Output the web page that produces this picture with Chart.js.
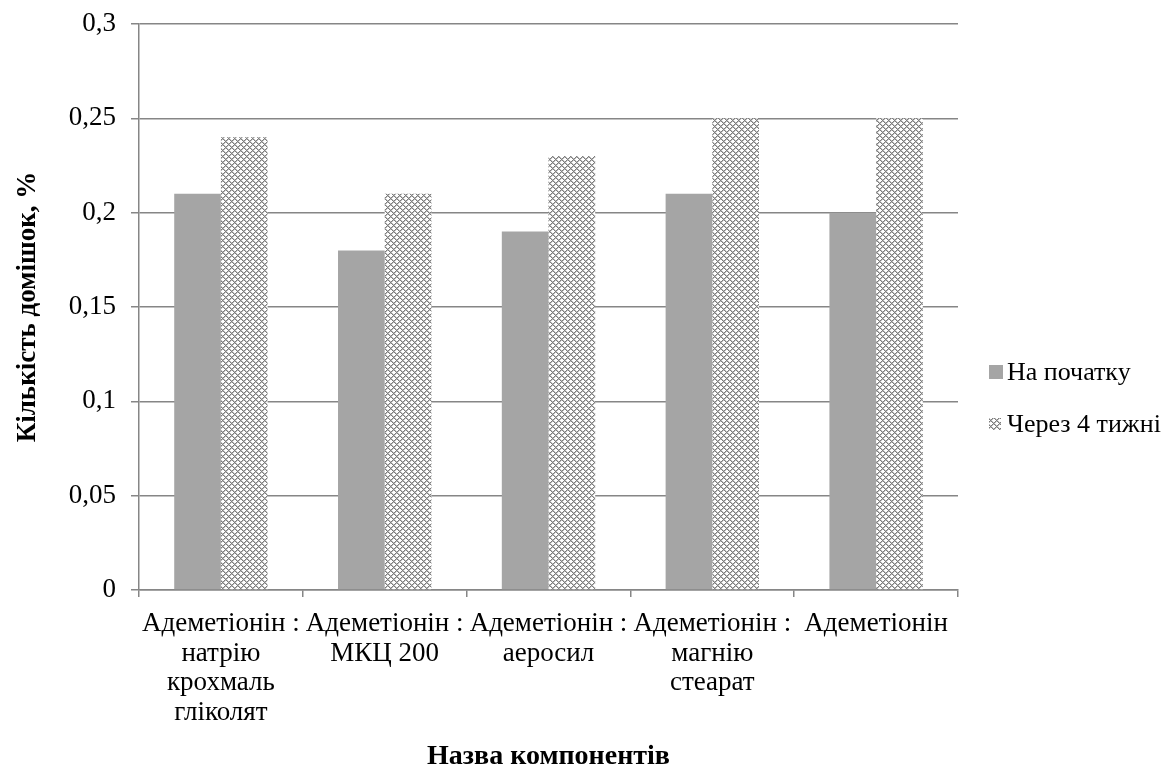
<!DOCTYPE html>
<html>
<head>
<meta charset="utf-8">
<script src="https://cdn.jsdelivr.net/npm/chart.js@4.4.1/dist/chart.umd.min.js"></script>
<style>
  html, body { margin: 0; padding: 0; background: #ffffff; }
  #wrap { width: 1167px; height: 767px; }
</style>
</head>
<body>
<div id="wrap"><canvas id="c" width="1167" height="767"></canvas></div>
<script>
// Components (multi-line category labels)
const categories = [
  ["Адеметіонін :", "натрію", "крохмаль", "гліколят"],
  ["Адеметіонін :", "МКЦ 200"],
  ["Адеметіонін :", "аеросил"],
  ["Адеметіонін :", "магнію", "стеарат"],
  ["Адеметіонін"]
];
const seriesNames = ["На початку", "Через 4 тижні"];
const atStart = [0.21, 0.18, 0.19, 0.21, 0.20];
const after4Weeks = [0.24, 0.21, 0.23, 0.25, 0.25];
const yTickLabels = ["0", "0,05", "0,1", "0,15", "0,2", "0,25", "0,3"];
const yAxisTitle = "Кількість домішок, %";
const xAxisTitle = "Назва компонентів";

const FONT = "'Liberation Serif', 'Times New Roman', serif";
const GRID = "#868686";
const SOLID = "#a5a5a5";

// Small diamond-lattice tile used as the hatch fill of the second series
function makePattern() {
  const t = document.createElement("canvas");
  t.width = 6; t.height = 6;
  const g = t.getContext("2d");
  const img = g.createImageData(6, 6);
  for (let y = 0; y < 6; y++) {
    for (let x = 0; x < 6; x++) {
      const a = (x + y) % 6, b = (x - y + 6) % 6;
      let v = 255;
      if (a === 0 || b === 0) v = 125;
      else if (a === 1 || b === 1) v = 190;
      const i = (y * 6 + x) * 4;
      img.data[i] = img.data[i + 1] = img.data[i + 2] = v;
      img.data[i + 3] = 255;
    }
  }
  g.putImageData(img, 0, 0);
  return g.createPattern(t, "repeat");
}

const ctx = document.getElementById("c").getContext("2d");
const hatch = makePattern();

// Legend drawn to the right of the plot area
const sideLegend = {
  id: "sideLegend",
  afterDraw(chart) {
    const c = chart.ctx;
    const x0 = 989;
    const rows = [372, 424];
    const boxes = [14, 12];
    c.save();
    c.font = "26px " + FONT;
    c.textBaseline = "middle";
    chart.data.datasets.forEach((ds, i) => {
      const s = boxes[i];
      c.fillStyle = ds.backgroundColor;
      c.fillRect(x0, rows[i] - s / 2, s, s);
      c.fillStyle = "#000";
      c.fillText(ds.label, x0 + 18, rows[i] + 1);
    });
    c.restore();
  }
};

new Chart(ctx, {
  type: "bar",
  data: {
    labels: categories,
    datasets: [
      { label: seriesNames[0], data: atStart, backgroundColor: SOLID, borderWidth: 0 },
      { label: seriesNames[1], data: after4Weeks, backgroundColor: hatch, borderWidth: 0 }
    ]
  },
  options: {
    responsive: false,
    animation: false,
    layout: { padding: { left: 0, top: 24, right: 209, bottom: 0 } },
    datasets: { bar: { barPercentage: 1.0, categoryPercentage: 0.57 } },
    plugins: {
      legend: { display: false },
      tooltip: { enabled: false }
    },
    scales: {
      x: {
        offset: true,
        border: { color: GRID, width: 1.5 },
        grid: { offset: true, drawOnChartArea: false, drawTicks: true, tickLength: 7, color: GRID, lineWidth: 1.5 },
        ticks: {
          color: "#000",
          font: { family: FONT, size: 27, lineHeight: 1.1 },
          padding: 12,
          maxRotation: 0,
          autoSkip: false
        },
        title: {
          display: true,
          text: xAxisTitle,
          color: "#000",
          font: { family: FONT, size: 28, weight: "bold", lineHeight: 1.0 },
          padding: { top: 0, bottom: -4 }
        },
        afterFit(scale) { scale.height = 177; }
      },
      y: {
        min: 0,
        max: 0.3,
        border: { color: GRID, width: 1.5 },
        grid: { color: GRID, lineWidth: 1.5, drawTicks: true, tickLength: 8 },
        ticks: {
          stepSize: 0.05,
          color: "#000",
          font: { family: FONT, size: 27, lineHeight: 0.5 },
          padding: 15,
          callback: (v, i) => yTickLabels[i]
        },
        title: {
          display: true,
          text: yAxisTitle,
          color: "#000",
          font: { family: FONT, size: 27, weight: "bold" },
          padding: { top: 12, bottom: 0 }
        },
        afterFit(scale) { scale.width = 139; }
      }
    }
  },
  plugins: [sideLegend]
});
</script>
</body>
</html>
